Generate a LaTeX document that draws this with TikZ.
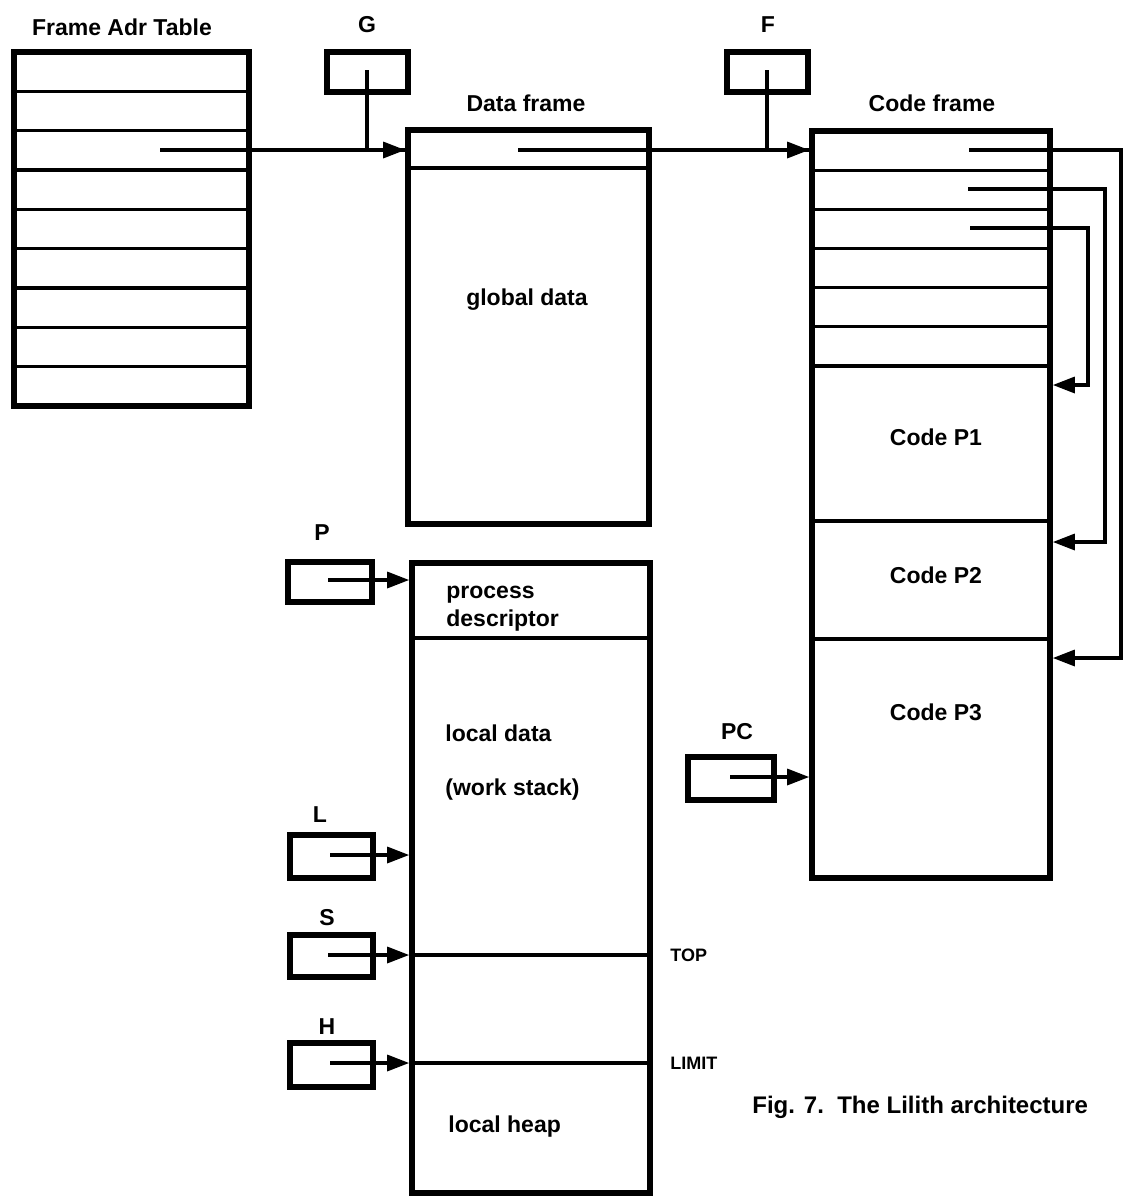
\documentclass[tikz,border=0pt]{standalone}
\usepackage{fontspec}
\setmainfont{Liberation Sans}
\usetikzlibrary{arrows.meta}
\begin{document}
\begin{tikzpicture}[x=0.5pt,y=-0.5pt,
  frame/.style={draw, line width=2.8pt, inner sep=0pt},
  rowline/.style={line width=1.6pt},
  ptr/.style={line width=1.6pt, -{Triangle[length=11pt,width=8pt]}},
  wire/.style={line width=1.6pt},
  lbl/.style={font=\bfseries\fontsize{11.5}{14}\selectfont, inner sep=0pt},
  small/.style={font=\bfseries\fontsize{9}{10}\selectfont, inner sep=0pt}
]
\useasboundingbox (0,0) rectangle (1124,1196);

% ---------- Frame Adr Table ----------
\node[lbl] (fattitle) at (122,27) {Frame Adr Table};
\node[frame, minimum width=117.5pt, minimum height=177pt] (fat) at (131.5,229) {};
\foreach \i in {1,...,8}
  \draw[rowline] (14,{52+\i*39.33}) -- (249,{52+\i*39.33});
\coordinate (fatp) at (160,150);

% ---------- G ----------
\node[lbl] (glbl) at (367,25) {G};
\node[frame, minimum width=40.5pt, minimum height=20pt] (gbox) at (367.5,72) {};
\coordinate (gp) at (367,70);

% ---------- Data frame ----------
\node[lbl] (datatitle) at (526,103) {Data frame};
\node[frame, minimum width=120.5pt, minimum height=197pt] (data) at (528.5,327) {};
\draw[rowline] (408,168) -- (649,168);
\node[lbl] (global) at (527,300) {global data};
\coordinate (datap) at (518,150);

% ---------- F ----------
\node[lbl] (flbl) at (768,25) {F};
\node[frame, minimum width=40.5pt, minimum height=20pt] (fbox) at (767.5,72) {};
\coordinate (fp) at (767,70);

% ---------- Code frame ----------
\node[lbl] (codetitle) at (932,103) {Code frame};
\node[frame, minimum width=119pt, minimum height=373.5pt] (code) at (931,504.5) {};
\foreach \i in {1,...,6}
  \draw[rowline] (812,{131+\i*39.17}) -- (1050,{131+\i*39.17});
\draw[rowline] (812,521) -- (1050,521);
\draw[rowline] (812,639) -- (1050,639);
\node[lbl] (cp1) at (936,437) {Code P1};
\node[lbl] (cp2) at (936,575) {Code P2};
\node[lbl] (cp3) at (936,712) {Code P3};
\coordinate (c1) at (969,150);
\coordinate (c2) at (968,189);
\coordinate (c3) at (970,228);
\coordinate (r1) at (1121,658);
\coordinate (r2) at (1105,542);
\coordinate (r3) at (1088,385);

% ---------- Stack / process frame ----------
\node[frame, minimum width=119pt, minimum height=315pt] (stack) at (531,878) {};
\draw[rowline] (412,638) -- (650,638);
\draw[rowline] (412,955) -- (650,955);
\draw[rowline] (412,1063) -- (650,1063);
\node[lbl, anchor=west, align=left] (pdesc) at (446,609) {process\\descriptor};
\node[lbl, anchor=west] (ldata) at (445,733) {local data};
\node[lbl, anchor=west] (wstack) at (445,790) {(work stack)};
\node[lbl, anchor=west] (lheap) at (448,1127) {local heap};
\node[small, anchor=west] (top) at (670,955) {TOP};
\node[small, anchor=west] (limit) at (670,1063) {LIMIT};

% ---------- registers ----------
\node[lbl] (plbl) at (322,533) {P};
\node[frame, minimum width=42pt, minimum height=20pt] (pbox) at (330,582) {};
\coordinate (pp) at (328,580);

\node[lbl] (llbl) at (320,815) {L};
\node[frame, minimum width=41.5pt, minimum height=21.5pt] (lbox) at (331.5,856.5) {};
\coordinate (lp) at (330,855);

\node[lbl] (slbl) at (327,918) {S};
\node[frame, minimum width=41.5pt, minimum height=21pt] (sbox) at (331.5,956) {};
\coordinate (sp) at (328,955);

\node[lbl] (hlbl) at (327,1027) {H};
\node[frame, minimum width=41.5pt, minimum height=22pt] (hbox) at (331.5,1065) {};
\coordinate (hp) at (330,1063);

\node[lbl] (pclbl) at (737,732) {PC};
\node[frame, minimum width=43pt, minimum height=21.5pt] (pcbox) at (731,778.5) {};
\coordinate (pcp) at (730,777);

% ---------- connectors ----------
\draw[wire] (fatp) -- (data.west |- fatp);
\draw[ptr] (gp) |- (data.west |- fatp);
\draw[wire] (datap) -- (code.west |- datap);
\draw[ptr] (fp) |- (code.west |- datap);

\draw[ptr] (c1) -| (r1) -- (code.east |- r1);
\draw[ptr] (c2) -| (r2) -- (code.east |- r2);
\draw[ptr] (c3) -| (r3) -- (code.east |- r3);

\draw[ptr] (pp) -- (stack.west |- pp);
\draw[ptr] (lp) -- (stack.west |- lp);
\draw[ptr] (sp) -- (stack.west |- sp);
\draw[ptr] (hp) -- (stack.west |- hp);
\draw[ptr] (pcp) -- (code.west |- pcp);

% ---------- caption ----------
\node[lbl, font=\bfseries\fontsize{12}{14}\selectfont, anchor=west] (caption) at (752,1107) {Fig. 7.\ \ The Lilith architecture};
\end{tikzpicture}
\end{document}
